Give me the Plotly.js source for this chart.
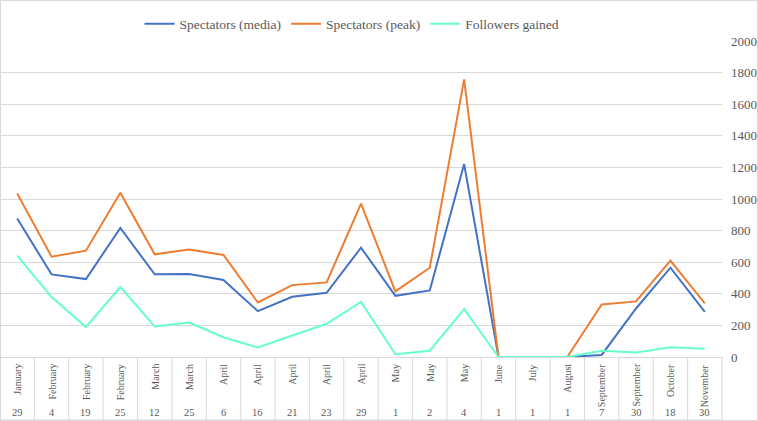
<!DOCTYPE html>
<html>
<head>
<meta charset="utf-8">
<script src="https://cdn.plot.ly/plotly-3.0.1.min.js"></script>
<style>
  html, body { margin: 0; padding: 0; background: #ffffff; }
  #chart { width: 758px; height: 421px; }
</style>
</head>
<body>
<div id="chart"></div>
<script>
// ---- data ----
var months = ["January","February","February","February","March","March","April","April","April","April","April","May","May","May","June","July","August","September","September","October","November"];
var days = ["29","4","19","25","12","25","6","16","21","23","29","1","2","4","1","1","1","7","30","18","30"];
var seriesNames = ["Spectators (media)", "Spectators (peak)", "Followers gained"];
var spectatorsMedia = [876, 523, 493, 817, 523, 525, 487, 290, 381, 406, 692, 387, 421, 1221, 0, 0, 0, 13, 307, 565, 286];
var spectatorsPeak = [1035, 635, 673, 1039, 650, 680, 646, 345, 455, 472, 971, 415, 565, 1757, 0, 0, 0, 333, 352, 610, 339];
var followersGained = [641, 379, 190, 443, 193, 218, 125, 60, 136, 210, 349, 17, 40, 303, 0, 0, 0, 40, 28, 62, 53];
var yTicks = [0, 200, 400, 600, 800, 1000, 1200, 1400, 1600, 1800, 2000];

// ---- layout geometry ----
var W = 758, H = 421;
var M = { l: 0, r: 36, t: 41, b: 64 };
var PW = W - M.l - M.r, PH = H - M.t - M.b;
function px2x(px) { return (px - M.l) / PW; }
function px2y(py) { return (H - M.b - py) / PH; }

var cats = months.map(function (m, i) { return m + " " + days[i]; });
var N = cats.length;
var colors = ["#4472C4", "#ED7D31", "#66FFCC"];
var gridColor = "#d9d9d9";
var textColor = "#595959";
var fontFam = "Liberation Serif";

var values = [spectatorsMedia, spectatorsPeak, followersGained];
var traces = values.map(function (v, k) {
  return {
    type: "scatter",
    mode: "lines",
    x: cats,
    y: v,
    name: seriesNames[k],
    line: { color: colors[k], width: 2 }
  };
});

var shapes = [];
// outer chart border
shapes.push({
  type: "rect", xref: "paper", yref: "paper",
  x0: px2x(0.5), x1: px2x(W - 0.5), y0: px2y(H - 0.5), y1: px2y(0.5),
  line: { color: gridColor, width: 1 }, fillcolor: "rgba(0,0,0,0)", layer: "below"
});
// category label boxes
var boxBottom = px2y(H - 1);
for (var i = 0; i <= N; i++) {
  shapes.push({
    type: "line", xref: "paper", yref: "paper",
    x0: i / N, x1: i / N, y0: 0, y1: boxBottom,
    line: { color: gridColor, width: 1 }
  });
}
shapes.push({
  type: "line", xref: "paper", yref: "paper",
  x0: 0, x1: 1, y0: boxBottom, y1: boxBottom,
  line: { color: gridColor, width: 1 }
});

var annotations = [];
cats.forEach(function (c, i) {
  annotations.push({
    xref: "x", yref: "paper", x: c, y: px2y(362),
    text: months[i], showarrow: false, textangle: -90,
    xanchor: "center", yanchor: "top",
    font: { family: fontFam, size: 10, color: textColor }
  });
  annotations.push({
    xref: "x", yref: "paper", x: c, y: px2y(412),
    text: days[i], showarrow: false,
    xanchor: "center", yanchor: "middle",
    font: { family: fontFam, size: 10.5, color: textColor }
  });
});

var layout = {
  width: W, height: H,
  margin: M,
  paper_bgcolor: "#ffffff",
  plot_bgcolor: "#ffffff",
  font: { family: fontFam, color: textColor, size: 12 },
  showlegend: true,
  legend: {
    orientation: "h",
    x: px2x(352), xanchor: "center",
    y: px2y(24), yanchor: "middle",
    font: { family: fontFam, size: 13.5, color: textColor },
    bgcolor: "rgba(0,0,0,0)",
    itemclick: false, itemdoubleclick: false
  },
  xaxis: {
    type: "category",
    range: [-0.5, N - 0.5],
    showgrid: false, zeroline: false, showline: false,
    showticklabels: false, ticks: "",
    fixedrange: true
  },
  yaxis: {
    side: "right",
    range: [0, 2000],
    tickvals: yTicks,
    ticktext: yTicks.map(String),
    showgrid: true, gridcolor: gridColor, gridwidth: 1,
    zeroline: true, zerolinecolor: gridColor, zerolinewidth: 1,
    showline: false, ticks: "",
    ticklabelstandoff: 8,
    tickfont: { family: fontFam, size: 13, color: textColor },
    fixedrange: true
  },
  shapes: shapes,
  annotations: annotations
};

Plotly.newPlot("chart", traces, layout, { displayModeBar: false, staticPlot: true });
</script>
</body>
</html>
